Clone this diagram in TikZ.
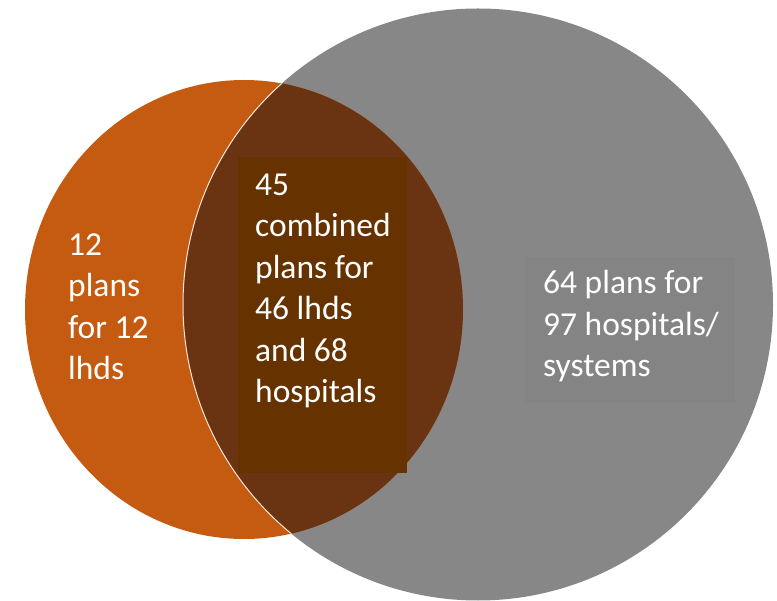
\documentclass[tikz,border=0pt]{standalone}
\usepackage{fontspec}
\setmainfont{Carlito}
\definecolor{orangeC}{HTML}{C55A11}
\definecolor{grayC}{HTML}{878787}
\definecolor{interC}{HTML}{6A3412}
\definecolor{midbox}{HTML}{663300}
\definecolor{rightbox}{HTML}{848484}
\tikzset{
  lbl/.style={anchor=base west, inner sep=0pt, align=left, text=white,
    font=\fontsize{33.5}{41.5}\selectfont},
}
\begin{document}
\begin{tikzpicture}[x=1pt,y=-1pt]
\useasboundingbox (0,0) rectangle (777,601);
% gray set
\fill[grayC] (478,304.5) ellipse [x radius=295pt, y radius=296pt];
% orange set
\fill[orangeC] (244,309.5) ellipse [x radius=219pt, y radius=229.5pt];
% intersection
\begin{scope}
  \clip (244,309.5) ellipse [x radius=219pt, y radius=229.5pt];
  \fill[interC] (478,304.5) ellipse [x radius=295pt, y radius=296pt];
  \draw[white!85!orangeC, line width=1pt] (478,304.5) ellipse [x radius=295pt, y radius=296pt];
\end{scope}
% text boxes
\fill[midbox] (238,157) rectangle (407,473);
\fill[rightbox] (525,257) rectangle (735,403);
% labels (base anchor = baseline of last line)
\node[lbl] (left) at (68,380) {12\\plans\\for 12\\lhds};
\node[lbl] (mid) at (255,403) {45\\combined\\plans for\\46 lhds\\and 68\\hospitals};
\node[lbl] (right) at (543,377) {64 plans for\\97 hospitals/\\systems};
\end{tikzpicture}
\end{document}
